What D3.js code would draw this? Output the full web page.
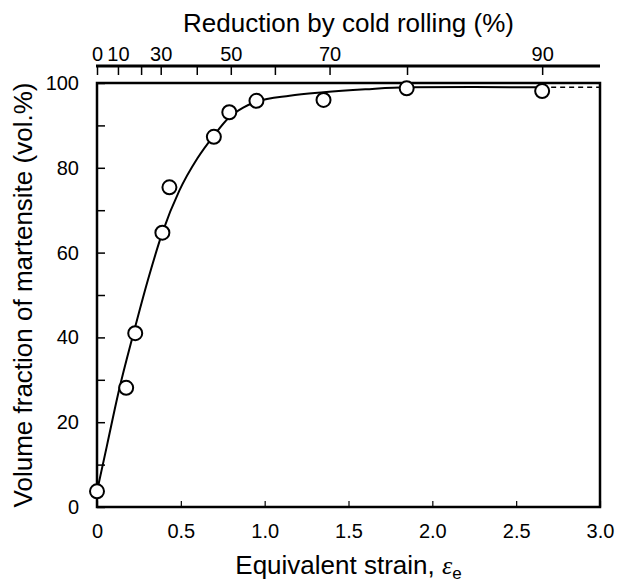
<!DOCTYPE html>
<html>
<head>
<meta charset="utf-8">
<script src="https://cdn.jsdelivr.net/npm/d3@7"></script>
<style>
  html, body { margin: 0; padding: 0; background: #fff; }
  svg { display: block; }
  text { font-family: "Liberation Sans", Arial, sans-serif; fill: #000; }
</style>
</head>
<body>
<svg id="chart" width="618" height="583"></svg>
<script>
// ---- data ----
const xTickValues = [0, 0.5, 1.0, 1.5, 2.0, 2.5, 3.0];
const xTickLabels = ["0", "0.5", "1.0", "1.5", "2.0", "2.5", "3.0"];
const yTickValues = [0, 10, 20, 30, 40, 50, 60, 70, 80, 90, 100];
const yTickLabels = ["0", "", "20", "", "40", "", "60", "", "80", "", "100"];

// top axis: cold-rolling reduction (%) and the strain at which each tick sits
const reductionTicks = [0, 10, 20, 30, 40, 50, 60, 70, 80, 90];
const reductionTickStrain = [0, 0.125, 0.263, 0.380, 0.595, 0.798, 1.061, 1.387, 1.849, 2.655];
const reductionLabels = ["0", "10", "", "30", "", "50", "", "70", "", "90"];

// measured points
const strain = [0, 0.174, 0.228, 0.390, 0.432, 0.697, 0.789, 0.951, 1.351, 1.847, 2.655];
const martensite = [3.7, 28.1, 41.0, 64.7, 75.4, 87.3, 93.1, 95.8, 96.0, 98.75, 98.1];

// fitted curve (solid)
const fitStrain = [0, 0.06, 0.128, 0.218, 0.307, 0.39, 0.491, 0.60, 0.697, 0.789, 0.872, 0.951, 1.149, 1.351, 1.60, 1.847, 2.25, 2.655];
const fitValue  = [3.7, 14.6, 27.0, 41.0, 54.0, 64.7, 74.6, 82.3, 87.6, 91.9, 94.2, 95.6, 97.0, 97.8, 98.5, 99.0, 99.05, 99.0];

// extrapolated part (dashed)
const dashStrain = [2.655, 3.0];
const dashValue = [99.0, 99.0];

// ---- drawing ----
const svg = d3.select("#chart");
const L = 97, R = 600, T = 83, B = 507;

const x = d3.scaleLinear().domain([0, 3]).range([L, R]);
const y = d3.scaleLinear().domain([0, 100]).range([B, T]);
const red = d3.scaleLinear().domain(reductionTicks).range(reductionTickStrain.map(x));

// left axis (ticks inward)
const gy = svg.append("g").attr("transform", `translate(${L},0)`)
  .call(d3.axisLeft(y).tickValues(yTickValues).tickSizeInner(-8).tickSizeOuter(0)
    .tickPadding(18).tickFormat((d, i) => yTickLabels[i]));
gy.select(".domain").remove();
gy.selectAll(".tick line").attr("stroke", "#000").attr("stroke-width", 1.5);
gy.selectAll(".tick text").attr("font-size", 20).attr("font-family", "Liberation Sans, Arial, sans-serif").attr("fill", "#000");

// bottom axis (ticks inward)
const gx = svg.append("g").attr("transform", `translate(0,${B})`)
  .call(d3.axisBottom(x).tickValues(xTickValues).tickSizeInner(-6).tickSizeOuter(0)
    .tickPadding(17).tickFormat((d, i) => xTickLabels[i]));
gx.select(".domain").remove();
gx.selectAll(".tick line").attr("stroke", "#000").attr("stroke-width", 1.2);
gx.selectAll(".tick text").attr("font-size", 20).attr("font-family", "Liberation Sans, Arial, sans-serif").attr("fill", "#000");

// top reduction axis
const TOPY = 66;
const gt = svg.append("g").attr("transform", `translate(0,${TOPY})`)
  .call(d3.axisTop(red).tickValues(reductionTicks).tickSizeInner(-9).tickSizeOuter(0)
    .tickPadding(5).tickFormat((d, i) => reductionLabels[i]));
gt.select(".domain").remove();
gt.selectAll(".tick line").attr("stroke", "#000").attr("stroke-width", 1.5);
gt.selectAll(".tick text").attr("font-size", 20).attr("font-family", "Liberation Sans, Arial, sans-serif").attr("fill", "#000");
svg.append("line")
  .attr("x1", x(0) - 1).attr("x2", x(3))
  .attr("y1", TOPY).attr("y2", TOPY)
  .attr("stroke", "#000").attr("stroke-width", 3);

// frame
svg.append("rect")
  .attr("x", L).attr("y", T).attr("width", R - L).attr("height", B - T)
  .attr("fill", "none").attr("stroke", "#000").attr("stroke-width", 2.5);

// fitted curve
const fit = fitStrain.map((s, i) => [s, fitValue[i]]);
svg.append("path").datum(fit)
  .attr("fill", "none").attr("stroke", "#000").attr("stroke-width", 2)
  .attr("d", d3.line().x(d => x(d[0])).y(d => y(d[1])).curve(d3.curveMonotoneX));

// dashed extension
const dash = dashStrain.map((s, i) => [s, dashValue[i]]);
svg.append("path").datum(dash)
  .attr("fill", "none").attr("stroke", "#000").attr("stroke-width", 1.5)
  .attr("stroke-dasharray", "5,4")
  .attr("d", d3.line().x(d => x(d[0])).y(d => y(d[1])));

// points
const pts = strain.map((s, i) => [s, martensite[i]]);
svg.append("g").selectAll("circle").data(pts).join("circle")
  .attr("cx", d => x(d[0])).attr("cy", d => y(d[1])).attr("r", 7)
  .attr("fill", "#fff").attr("stroke", "#000").attr("stroke-width", 2);

// axis titles
svg.append("text")
  .attr("x", (L + R) / 2).attr("y", 32)
  .attr("text-anchor", "middle").attr("font-size", 26)
  .text("Reduction by cold rolling (%)");

const xt = svg.append("text")
  .attr("x", (L + R) / 2).attr("y", 574)
  .attr("text-anchor", "middle").attr("font-size", 26);
xt.append("tspan").text("Equivalent strain, ");
xt.append("tspan").attr("font-style", "italic").attr("font-family", "Liberation Serif, serif").text("ε");
xt.append("tspan").attr("font-size", 17).attr("dy", 5).text("e");

svg.append("text")
  .attr("transform", `translate(32,${(T + B) / 2}) rotate(-90)`)
  .attr("text-anchor", "middle").attr("font-size", 26)
  .text("Volume fraction of martensite (vol.%)");
</script>
</body>
</html>
